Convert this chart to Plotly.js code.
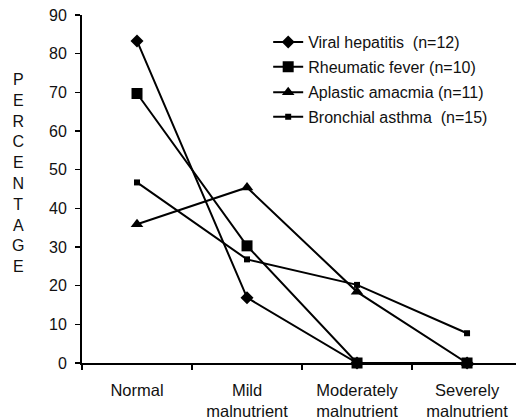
<!DOCTYPE html>
<html>
<head>
<meta charset="utf-8">
<script src="https://cdn.plot.ly/plotly-3.0.1.min.js"></script>
<style>html,body{margin:0;padding:0;background:#fff;}#chart{width:516px;height:420px;}</style>
</head>
<body>
<div id="chart"></div>
<script>
const categories = ["Normal", "Mild<br>malnutrient", "Moderately<br>malnutrient", "Severely<br>malnutrient"];
const seriesNames = ["Viral hepatitis  (n=12)", "Rheumatic fever (n=10)", "Aplastic amacmia (n=11)", "Bronchial asthma  (n=15)"];
const viralHepatitis = [83.3, 16.9, 0, 0];
const rheumaticFever = [69.7, 30.3, 0, 0];
const aplasticAnaemia = [35.9, 45.4, 18.4, 0];
const bronchialAsthma = [46.7, 26.8, 20.2, 7.7];
const yTicks = [0, 10, 20, 30, 40, 50, 60, 70, 80, 90];
const yTitle = "PERCENTAGE";

const FONT = "Liberation Sans, Arial, sans-serif";
const NARROW = "Liberation Sans Narrow, Arial Narrow, Liberation Sans, sans-serif";
const values = [viralHepatitis, rheumaticFever, aplasticAnaemia, bronchialAsthma];
const symbols = ["diamond", "square", "triangle-up", "square"];
const sizes = [10, 11, 11, 6];
const legendIds = ["legend", "legend2", "legend3", "legend4"];
const legendY = [0.922, 0.851, 0.778, 0.707];

const traces = values.map((v, i) => ({
  x: categories,
  y: v,
  name: seriesNames[i],
  type: "scatter",
  mode: "lines+markers",
  line: {color: "#000", width: 2},
  marker: {symbol: symbols[i], size: sizes[i], color: "#000"},
  cliponaxis: false,
  legend: legendIds[i]
}));

const layout = {
  width: 516, height: 420,
  margin: {l: 82, r: 0, t: 15, b: 57},
  paper_bgcolor: "#fff", plot_bgcolor: "#fff",
  font: {family: FONT, size: 14, color: "#111"},
  showlegend: true,
  xaxis: {
    type: "category",
    range: [-0.5, 3.445],
    showline: true, linecolor: "#000", linewidth: 2,
    ticks: "outside", ticklen: 5, tickwidth: 1.5, tickcolor: "#000",
    tickson: "boundaries",
    showgrid: false, zeroline: false,
    ticklabelstandoff: 11,
    tickfont: {family: FONT, size: 16.5, color: "#111"}
  },
  yaxis: {
    range: [0, 90],
    tickvals: yTicks,
    ticktext: yTicks.map(String),
    showline: true, linecolor: "#000", linewidth: 2,
    ticks: "outside", ticklen: 5, tickwidth: 1.5, tickcolor: "#000",
    showgrid: false, zeroline: false,
    ticklabelstandoff: 5,
    tickfont: {family: FONT, size: 16, color: "#111"}
  },
  annotations: [{
    text: yTitle.split("").join("<br>"),
    xref: "paper", yref: "paper",
    x: -0.148, y: 0.545,
    xanchor: "center", yanchor: "middle",
    showarrow: false,
    font: {family: FONT, size: 16, color: "#111"}
  }]
};
legendIds.forEach((id, i) => {
  layout[id] = {
    x: 0.429, y: legendY[i], xanchor: "left", yanchor: "middle",
    bgcolor: "rgba(0,0,0,0)", borderwidth: 0,
    font: {family: NARROW, size: 16, color: "#111"}
  };
});

Plotly.newPlot("chart", traces, layout, {displayModeBar: false, staticPlot: true});
</script>
</body>
</html>
